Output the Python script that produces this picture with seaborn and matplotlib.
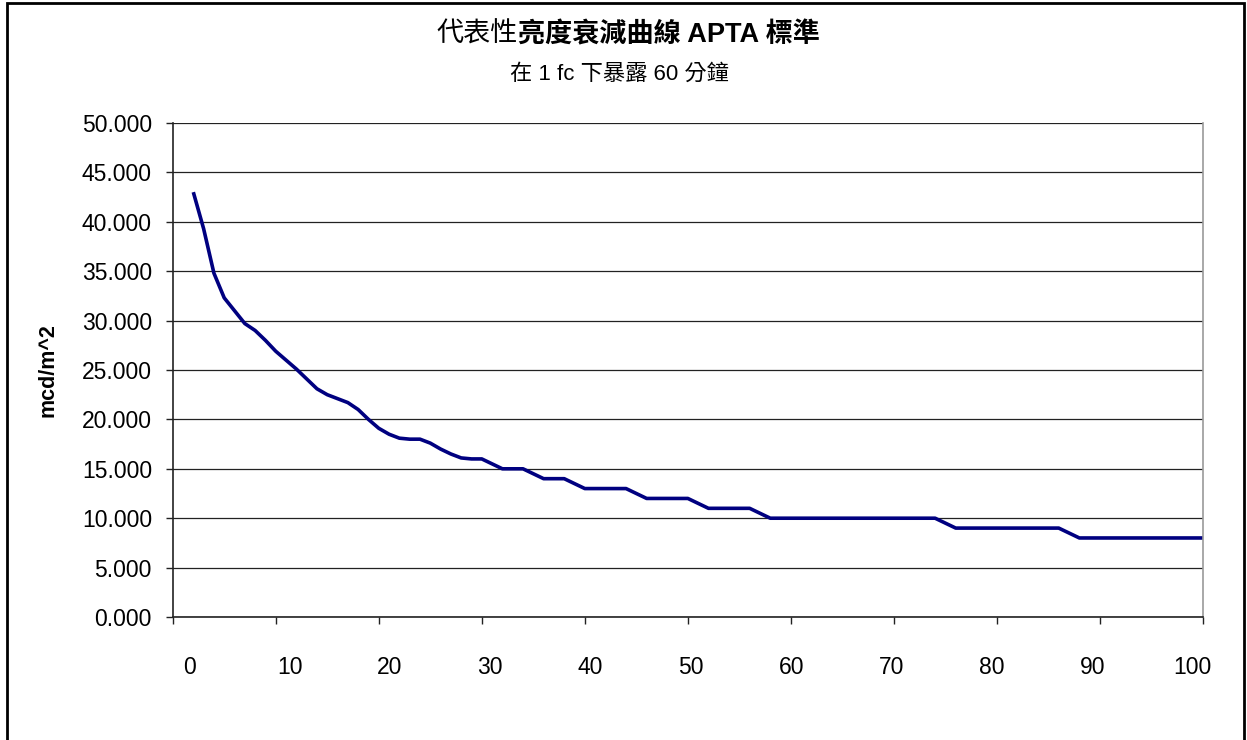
import matplotlib
matplotlib.use("Agg")
import numpy as np
import pandas as pd
import matplotlib.pyplot as plt
import matplotlib.ticker as mticker
import seaborn as sns
from matplotlib.patches import Rectangle

# ── data ──────────────────────────────────────────────────────────────────────
minutes = list(range(2, 101))
brightness = [
    43.0, 39.3, 34.8, 32.3, 31.0, 29.7, 29.0, 28.0, 26.9, 26.0,   # 2-11
    25.1, 24.1, 23.1, 22.5, 22.1, 21.7, 21.0, 20.0, 19.1, 18.5,   # 12-21
    18.1, 18.0, 18.0, 17.6, 17.0, 16.5, 16.1, 16.0, 16.0, 15.5,   # 22-31
    15.0, 15.0, 15.0, 14.5, 14.0, 14.0, 14.0, 13.5, 13.0, 13.0,   # 32-41
    13.0, 13.0, 13.0, 12.5, 12.0, 12.0, 12.0, 12.0, 12.0, 11.5,   # 42-51
    11.0, 11.0, 11.0, 11.0, 11.0, 10.5, 10.0, 10.0, 10.0, 10.0,   # 52-61
    10.0, 10.0, 10.0, 10.0, 10.0, 10.0, 10.0, 10.0, 10.0, 10.0,   # 62-71
    10.0, 10.0, 10.0, 9.5, 9.0, 9.0, 9.0, 9.0, 9.0, 9.0,          # 72-81
    9.0, 9.0, 9.0, 9.0, 9.0, 8.5, 8.0, 8.0, 8.0, 8.0,             # 82-91
    8.0, 8.0, 8.0, 8.0, 8.0, 8.0, 8.0, 8.0, 8.0,                  # 92-100
]
x_tick_values = [0, 10, 20, 30, 40, 50, 60, 70, 80, 90, 100]
y_tick_values = [0, 5, 10, 15, 20, 25, 30, 35, 40, 45, 50]

TITLE_NORMAL = "代表性"
TITLE_BOLD   = "亮度衰減曲線 APTA 標準"
SUBTITLE     = "在 1 fc 下暴露 60 分鐘"
Y_LABEL      = "mcd/m^2"
LINE_COLOR   = "#000080"

df = pd.DataFrame({"minute": minutes, "value": brightness})

# ── style ─────────────────────────────────────────────────────────────────────
sns.set_style("white")
plt.rcParams["font.family"] = ["Liberation Sans", "Noto Sans CJK TC", "DejaVu Sans"]
plt.rcParams["text.color"] = "black"
plt.rcParams["axes.labelcolor"] = "black"
plt.rcParams["xtick.color"] = "black"
plt.rcParams["ytick.color"] = "black"

fig = plt.figure(figsize=(12.47, 7.40), dpi=100)
ax = fig.add_axes([0.1385, 0.1662, 0.8262, 0.6676])

sns.lineplot(data=df, x="minute", y="value", ax=ax,
             color=LINE_COLOR, lw=2.6, solid_joinstyle="round", solid_capstyle="butt")

# axes limits / ticks
ax.set_xlim(0, 100)
ax.set_ylim(0, 50)
ax.set_yticks(y_tick_values)
ax.yaxis.set_major_formatter(mticker.FormatStrFormatter("%.3f"))
ax.set_xticks(x_tick_values)
ax.set_xticklabels([])
# labels sit a bit off the tick marks, like the original export
label_pos = np.linspace(1.6, 99.0, len(x_tick_values))
ax.set_xticks(label_pos, minor=True)
ax.set_xticklabels([str(v) for v in x_tick_values], minor=True)

ax.tick_params(axis="y", which="major", direction="out", length=5, width=1,
               color="#222222", labelsize=16.5, pad=10, left=True)
ax.tick_params(axis="x", which="major", direction="out", length=5, width=1,
               color="#222222", bottom=True)
ax.tick_params(axis="x", which="minor", length=0, labelsize=16.5, pad=28)

ax.grid(axis="y", color="#222222", lw=0.9)
ax.grid(axis="x", visible=False)
ax.set_axisbelow(True)

for side in ["left", "bottom"]:
    ax.spines[side].set_color("#222222")
    ax.spines[side].set_linewidth(1.2)
ax.spines["right"].set_color("#999999")
ax.spines["right"].set_linewidth(1.2)
ax.spines["top"].set_visible(False)

ax.set_xlabel("")
ax.set_ylabel(Y_LABEL, fontsize=15.5, fontweight="bold", labelpad=17)

# ── title (mixed weight) and subtitle ────────────────────────────────────────
t1 = fig.text(0, 0.953, TITLE_NORMAL, fontsize=19.5, ha="left", va="center")
t2 = fig.text(0, 0.953, TITLE_BOLD, fontsize=19.5, fontweight="bold", ha="left", va="center")
fig.canvas.draw()
r = fig.canvas.get_renderer()
w1 = t1.get_window_extent(r).width / fig.bbox.width
w2 = t2.get_window_extent(r).width / fig.bbox.width
start = 0.504 - (w1 + w2) / 2
t1.set_x(start)
t2.set_x(start + w1)

fig.text(0.497, 0.899, SUBTITLE, fontsize=16, ha="center", va="center")

# outer chart frame
fig.patches.append(Rectangle((7 / 1247, -0.05), 1237 / 1247, 1.05 - 3 / 740,
                             transform=fig.transFigure, fill=False,
                             edgecolor="black", lw=2))

fig.savefig("out.png", dpi=100)
